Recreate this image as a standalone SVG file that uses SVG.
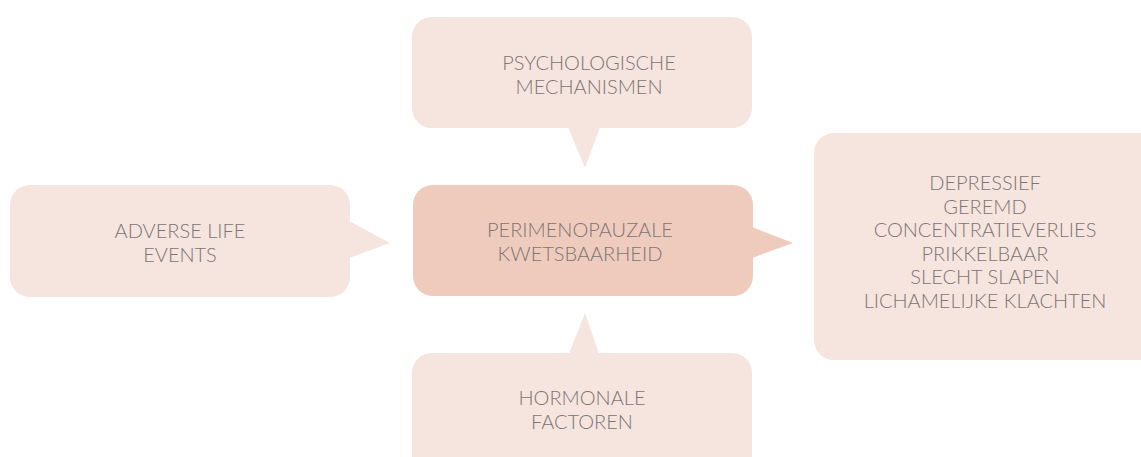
<svg xmlns="http://www.w3.org/2000/svg" width="1141" height="457" viewBox="0 0 1141 457">
<style>
.light{fill:#f6e4de}
.dark{fill:#efcbbd}
text{font-family:"Lato","Liberation Sans",sans-serif;font-weight:300;font-size:20px;fill:#7c7574;text-anchor:middle}
</style>
<rect width="1141" height="457" fill="#ffffff"/>
<g id="connectors"></g>
<g id="psychologische">
<rect class="light" x="412" y="17" width="340" height="111" rx="20"/>
<polygon class="light" points="568,127 600,127 585,168"/>
<text x="589" y="70">PSYCHOLOGISCHE</text>
<text x="589" y="94">MECHANISMEN</text>
</g>
<g id="adverse">
<rect class="light" x="10" y="185" width="340" height="112" rx="20"/>
<polygon class="light" points="349,221 349,258 390,243"/>
<text x="180" y="238">ADVERSE LIFE</text>
<text x="180" y="262">EVENTS</text>
</g>
<g id="perimenopauzale">
<rect class="dark" x="413" y="185" width="340" height="111" rx="20"/>
<polygon class="dark" points="752,227 752,258 793,243"/>
<text x="580" y="237">PERIMENOPAUZALE</text>
<text x="580" y="261">KWETSBAARHEID</text>
</g>
<g id="hormonale">
<rect class="light" x="412" y="353" width="340" height="130" rx="20"/>
<polygon class="light" points="569,354 599,354 585,313"/>
<text x="582" y="405">HORMONALE</text>
<text x="582" y="429">FACTOREN</text>
</g>
<g id="symptomen">
<rect class="light" x="814" y="133" width="345" height="227" rx="20"/>
<text x="985" y="190">DEPRESSIEF</text>
<text x="985" y="214">GEREMD</text>
<text x="985" y="237">CONCENTRATIEVERLIES</text>
<text x="985" y="261">PRIKKELBAAR</text>
<text x="985" y="284">SLECHT SLAPEN</text>
<text x="985" y="308">LICHAMELIJKE KLACHTEN</text>
</g>
</svg>
